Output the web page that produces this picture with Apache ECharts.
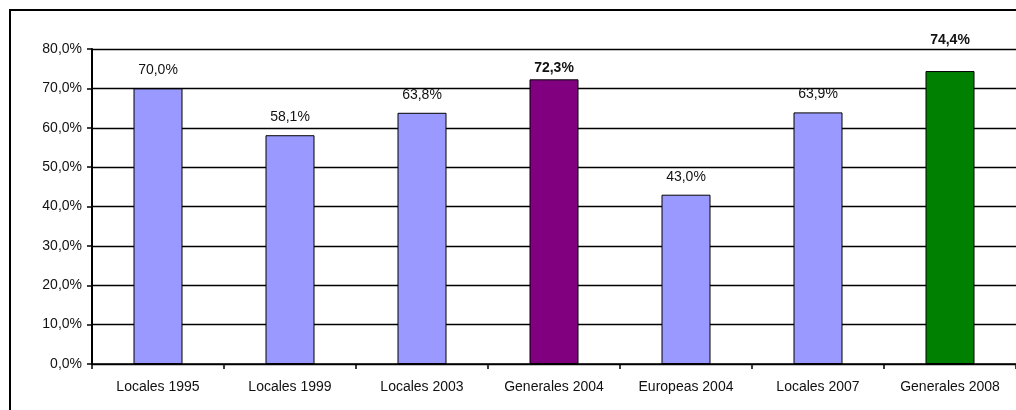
<!DOCTYPE html>
<html>
<head>
<meta charset="utf-8">
<script src="https://cdn.jsdelivr.net/npm/echarts@6/dist/echarts.min.js"></script>
<style>
html,body{margin:0;padding:0;width:1016px;height:410px;overflow:hidden;background:#fff;}
#frame{position:absolute;left:9px;top:9px;width:1100px;height:500px;border:2px solid #000;box-sizing:border-box;}
#chart{position:absolute;left:0;top:0;width:1016px;height:410px;}
</style>
</head>
<body>
<div id="frame"></div>
<div id="chart"></div>
<script>
const categories = ['Locales 1995','Locales 1999','Locales 2003','Generales 2004','Europeas 2004','Locales 2007','Generales 2008'];
const values = [70.0, 58.1, 63.8, 72.3, 43.0, 63.9, 74.4];
const yTicks = [0,10,20,30,40,50,60,70,80];

const barColors = ['#9999FF','#9999FF','#9999FF','#800080','#9999FF','#9999FF','#008000'];
const boldLabel = [false,false,false,true,false,false,true];
const labelDist = [11,11,11,4,11,11,24];

const fmt = v => v.toFixed(1).replace('.', ',') + '%';
const FONT = '"Liberation Sans", Arial, sans-serif';

const chart = echarts.init(document.getElementById('chart'));
chart.setOption({
  animation: false,
  grid: {left: 92, top: 49, width: 931, height: 315, containLabel: false},
  xAxis: {
    type: 'category',
    data: categories,
    axisLine: {lineStyle: {color: '#000', width: 1.5}},
    axisTick: {show: true, length: 5, lineStyle: {color: '#000', width: 1.5}, alignWithLabel: false},
    axisLabel: {color: '#111', fontFamily: FONT, fontSize: 14, margin: 16, interval: 0}
  },
  yAxis: {
    type: 'value',
    min: yTicks[0], max: yTicks[yTicks.length-1], interval: 10,
    axisLine: {show: true, lineStyle: {color: '#000', width: 2}},
    axisTick: {show: true, length: 5, lineStyle: {color: '#000', width: 1.5}},
    splitLine: {show: true, lineStyle: {color: '#000', width: 1.3}},
    axisLabel: {color: '#111', fontFamily: FONT, fontSize: 14, margin: 10, formatter: v => fmt(v)}
  },
  series: [{
    type: 'bar',
    barWidth: 49,
    data: values.map((v, i) => ({
      value: v,
      itemStyle: {color: barColors[i], borderColor: '#000', borderWidth: 1},
      label: {
        show: true, position: 'top', distance: labelDist[i],
        formatter: p => fmt(p.value),
        color: '#111', fontSize: 14,
        fontFamily: FONT,
        fontWeight: boldLabel[i] ? 'bold' : 'normal'
      }
    }))
  }]
});
</script>
</body>
</html>
